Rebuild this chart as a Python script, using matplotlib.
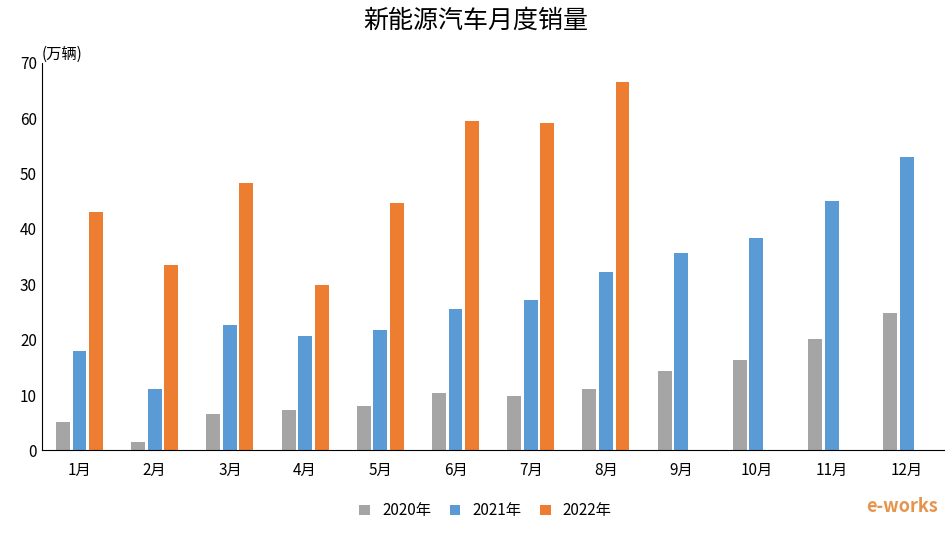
import matplotlib.pyplot as plt
from matplotlib import font_manager
import numpy as np

# pick whichever CJK family is actually installed
names = set(f.name for f in font_manager.fontManager.ttflist)
cjk = [n for n in ['Noto Sans CJK SC', 'Noto Sans CJK JP', 'Noto Sans CJK TC', 'Noto Sans CJK KR'] if n in names]
if not cjk:
    cjk = sorted(n for n in names if 'CJK' in n)
plt.rcParams['font.family'] = cjk + ['DejaVu Sans']

months = ['1月', '2月', '3月', '4月', '5月', '6月', '7月', '8月', '9月', '10月', '11月', '12月']
sales_2020 = [5.2, 1.6, 6.5, 7.3, 8.1, 10.4, 9.9, 11.0, 14.3, 16.3, 20.1, 24.8]
sales_2021 = [17.9, 11.0, 22.6, 20.6, 21.7, 25.5, 27.1, 32.2, 35.6, 38.3, 45.0, 53.0]
sales_2022 = [43.0, 33.4, 48.3, 29.8, 44.7, 59.5, 59.1, 66.5]

fig = plt.figure(figsize=(9.52, 5.33), dpi=100)
ax = fig.add_axes([0.044, 0.155, 0.948, 0.727])

x = np.arange(len(months))
w = 0.185
step = 0.22
ax.bar(x - step, sales_2020, w, color='#A5A5A5', label='2020年')
ax.bar(x, sales_2021, w, color='#5B9BD5', label='2021年')
ax.bar(np.arange(len(sales_2022)) + step, sales_2022, w, color='#ED7D31', label='2022年')

ax.set_xlim(-0.5, len(months) - 0.5)
ax.set_ylim(0, 70)
ax.set_yticks(range(0, 71, 10))
ax.set_xticks(x)
ax.set_xticklabels(months)
ax.tick_params(axis='both', labelsize=11, length=0)
ax.tick_params(axis='x', pad=8)
for s in ['top', 'right']:
    ax.spines[s].set_visible(False)
ax.spines['left'].set_color('black')
ax.spines['bottom'].set_color('black')

ax.text(0.0, 1.0, '(万辆)', transform=ax.transAxes, fontsize=11, va='bottom', ha='left')
fig.suptitle('新能源汽车月度销量', fontsize=18, y=0.985)
fig.legend(loc='lower center', ncol=3, frameon=False, fontsize=11,
           bbox_to_anchor=(0.51, 0.0), handlelength=0.7, handleheight=0.7, columnspacing=1.2)
fig.text(0.985, 0.04, 'e-works', color='#E07A20', fontsize=13, fontstyle='italic',
         fontweight='bold', ha='right', alpha=0.8)

fig.savefig('out.png', dpi=100)
